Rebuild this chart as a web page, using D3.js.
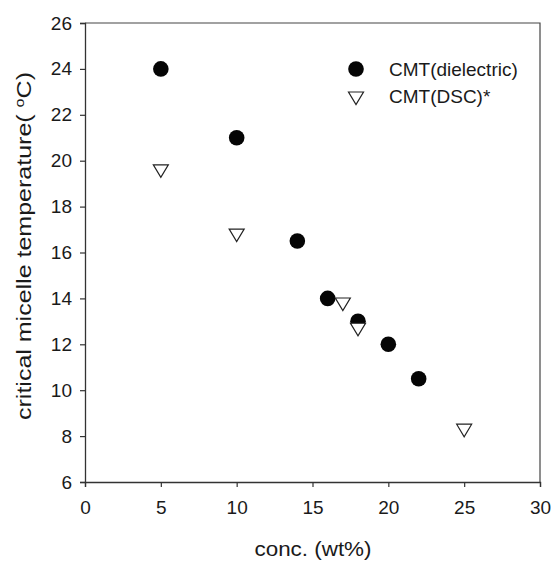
<!DOCTYPE html>
<html>
<head>
<meta charset="utf-8">
<script src="https://cdn.jsdelivr.net/npm/d3@7"></script>
<style>
  body { margin: 0; background: #fff; }
  text { font-family: "Liberation Sans", Arial, sans-serif; fill: #1a1a1a; }
</style>
</head>
<body>
<div id="chart"></div>
<script>
var width = 554,
    height = 567;

// data
var dielConc = [5, 10, 14, 16, 18, 20, 22];
var dielCMT  = [24, 21, 16.5, 14, 13, 12, 10.5];
var dscConc  = [5, 10, 17, 18, 25];
var dscCMT   = [19.6, 16.8, 13.8, 12.7, 8.3];

var xTicks = [0, 5, 10, 15, 20, 25, 30];
var yTicks = [6, 8, 10, 12, 14, 16, 18, 20, 22, 24, 26];
var legendLabels = ["CMT(dielectric)", "CMT(DSC)*"];

var plot = { left: 85, right: 540, top: 23, bottom: 482 };

var svg = d3.select("#chart").append("svg")
  .attr("width", width)
  .attr("height", height);

var x = d3.scaleLinear().domain([0, 30]).range([plot.left, plot.right]);
var y = d3.scaleLinear().domain([6, 26]).range([plot.bottom, plot.top]);

// frame (top and right)
svg.append("path")
  .attr("d", "M" + plot.left + "," + plot.top + "H" + plot.right + "V" + plot.bottom)
  .style("fill", "none")
  .style("stroke", "#444")
  .style("stroke-width", 1.2);

var xAxis = svg.append("g")
  .attr("transform", "translate(0," + plot.bottom + ")")
  .call(d3.axisBottom(x).tickValues(xTicks).tickSize(5).tickPadding(14));

var yAxis = svg.append("g")
  .attr("transform", "translate(" + plot.left + ",0)")
  .call(d3.axisLeft(y).tickValues(yTicks).tickSize(5).tickPadding(8));

[xAxis, yAxis].forEach(function(g) {
  g.select(".domain").style("stroke", "#333").style("stroke-width", 1.3);
  g.selectAll(".tick line").style("stroke", "#333").style("stroke-width", 1.2);
  g.selectAll(".tick text")
    .style("font-size", "19px")
    .style("font-family", "'Liberation Sans', Arial, sans-serif")
    .style("fill", "#1a1a1a");
});

// axis titles
svg.append("text")
  .attr("x", 313)
  .attr("y", 556)
  .attr("text-anchor", "middle")
  .attr("textLength", 117)
  .attr("lengthAdjust", "spacingAndGlyphs")
  .style("font-size", "20px")
  .text("conc. (wt%)");

var ylab = svg.append("text")
  .attr("transform", "translate(31,246) rotate(-90)")
  .attr("text-anchor", "middle")
  .attr("textLength", 348)
  .attr("lengthAdjust", "spacingAndGlyphs")
  .style("font-size", "20px");
ylab.append("tspan").text("critical micelle temperature( ");
ylab.append("tspan").attr("dy", -7).style("font-size", "13px").text("o");
ylab.append("tspan").attr("dy", 7).text("C)");

// triangle symbol (pointing down)
function triangle(cx, cy) {
  var w = 7.5, h = 12.5;
  return "M" + (cx - w) + "," + (cy - h * 0.4) +
         "L" + (cx + w) + "," + (cy - h * 0.4) +
         "L" + cx + "," + (cy + h * 0.6) + "Z";
}

var dielData = dielConc.map(function(c, i) { return { conc: c, t: dielCMT[i] }; });
var dscData = dscConc.map(function(c, i) { return { conc: c, t: dscCMT[i] }; });

svg.selectAll("circle.diel")
  .data(dielData)
  .enter()
  .append("circle")
  .attr("class", "diel")
  .attr("cx", function(d) { return x(d.conc); })
  .attr("cy", function(d) { return y(d.t); })
  .attr("r", 7.8)
  .style("fill", "#050505");

svg.selectAll("path.dsc")
  .data(dscData)
  .enter()
  .append("path")
  .attr("class", "dsc")
  .attr("d", function(d) { return triangle(x(d.conc), y(d.t)); })
  .style("fill", "#fff")
  .style("stroke", "#222")
  .style("stroke-width", 1.2);

// legend
svg.append("circle")
  .attr("cx", 356).attr("cy", 69).attr("r", 7.8)
  .style("fill", "#050505");
svg.append("path")
  .attr("d", triangle(356, 97))
  .style("fill", "#fff")
  .style("stroke", "#222")
  .style("stroke-width", 1.2);

svg.selectAll("text.legend")
  .data(legendLabels)
  .enter()
  .append("text")
  .attr("class", "legend")
  .attr("x", 389)
  .attr("y", function(d, i) { return 76 + i * 27; })
  .style("font-size", "19px")
  .text(function(d) { return d; });
</script>
</body>
</html>
